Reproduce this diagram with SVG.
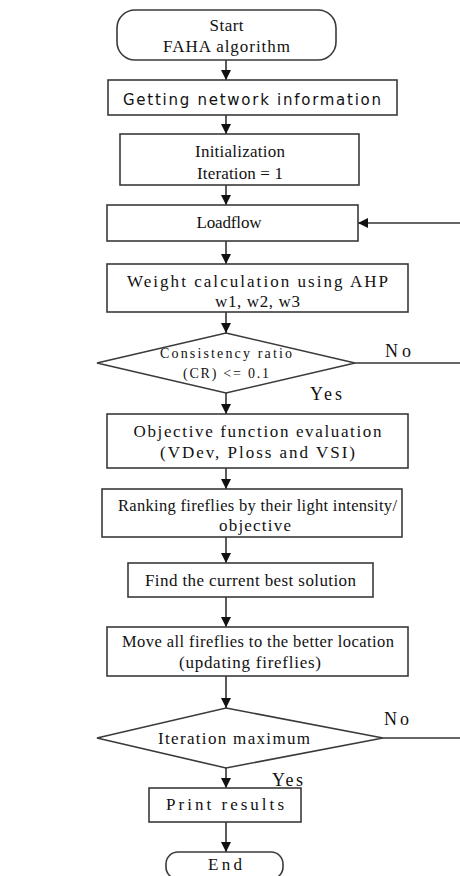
<svg xmlns="http://www.w3.org/2000/svg" width="460" height="876" viewBox="0 0 460 876">
<style>
.box{fill:#fff;stroke:#3a3a3a;stroke-width:1.6}
.c{fill:none;stroke:#333;stroke-width:1.6}
</style>
<defs>
<marker id="ah" markerUnits="userSpaceOnUse" markerWidth="10" markerHeight="10" refX="10" refY="5" orient="auto">
<path d="M0,0 L10,5 L0,10 z" fill="#111"/>
</marker>
</defs>
<g id="connectors">
<line class="c" x1="226" y1="60" x2="226" y2="80" marker-end="url(#ah)"/>
<line class="c" x1="226" y1="115" x2="226" y2="134" marker-end="url(#ah)"/>
<line class="c" x1="226" y1="185" x2="226" y2="205" marker-end="url(#ah)"/>
<line class="c" x1="226" y1="241" x2="226" y2="264" marker-end="url(#ah)"/>
<line class="c" x1="226" y1="312" x2="226" y2="333" marker-end="url(#ah)"/>
<line class="c" x1="226" y1="393" x2="226" y2="414" marker-end="url(#ah)"/>
<line class="c" x1="226" y1="468" x2="226" y2="489" marker-end="url(#ah)"/>
<line class="c" x1="226" y1="537" x2="226" y2="563" marker-end="url(#ah)"/>
<line class="c" x1="226" y1="597" x2="226" y2="627" marker-end="url(#ah)"/>
<line class="c" x1="226" y1="676" x2="226" y2="708" marker-end="url(#ah)"/>
<line class="c" x1="226" y1="768" x2="226" y2="788" marker-end="url(#ah)"/>
<line class="c" x1="226" y1="822" x2="226" y2="852" marker-end="url(#ah)"/>
<line class="c" x1="460" y1="223" x2="358" y2="223" marker-end="url(#ah)"/>
<line class="c" x1="355" y1="363" x2="460" y2="363"/>
<line class="c" x1="383" y1="738" x2="460" y2="738"/>
<g font-family="Liberation Serif, Times New Roman, serif" font-size="18" fill="#111">
<text x="385" y="357" textLength="26" lengthAdjust="spacing">No</text>
<text x="310" y="400" textLength="32" lengthAdjust="spacing">Yes</text>
<text x="384" y="725" textLength="25" lengthAdjust="spacing">No</text>
<text x="272" y="786" textLength="31" lengthAdjust="spacing">Yes</text>
</g>
</g>
<g font-family="Liberation Serif, Times New Roman, serif" font-size="17" fill="#111" text-anchor="middle">
<g id="start">
<rect class="box" x="117" y="10" width="219" height="50" rx="18"/>
<text x="226.5" y="31" textLength="34" lengthAdjust="spacing">Start</text>
<text x="226.5" y="52" textLength="127" lengthAdjust="spacing">FAHA algorithm</text>
</g>
<g id="getting">
<rect class="box" x="108" y="80" width="289" height="35"/>
<text x="252" y="105" font-family="DejaVu Sans, Verdana, sans-serif" font-size="15" textLength="258" lengthAdjust="spacing">Getting network information</text>
</g>
<g id="init">
<rect class="box" x="120" y="134" width="239" height="51"/>
<text x="240" y="157" textLength="90" lengthAdjust="spacing">Initialization</text>
<text x="240" y="179" textLength="86" lengthAdjust="spacing">Iteration = 1</text>
</g>
<g id="loadflow">
<rect class="box" x="107" y="205" width="251" height="36"/>
<text x="229" y="228" textLength="65" lengthAdjust="spacing">Loadflow</text>
</g>
<g id="weight">
<rect class="box" x="107" y="264" width="301" height="48"/>
<text x="257.5" y="287" textLength="261" lengthAdjust="spacing">Weight calculation using AHP</text>
<text x="257.5" y="307" textLength="85" lengthAdjust="spacing">w1, w2, w3</text>
</g>
<g id="consistency">
<polygon class="box" points="226,333 355,363 226,393 97,363"/>
<text x="226" y="358" font-size="14" textLength="132" lengthAdjust="spacing">Consistency ratio</text>
<text x="226" y="378" font-size="14" textLength="86" lengthAdjust="spacing">(CR) &lt;= 0.1</text>
</g>
<g id="objective">
<rect class="box" x="107" y="414" width="301" height="54"/>
<text x="257.5" y="437" textLength="248" lengthAdjust="spacing">Objective function evaluation</text>
<text x="257.5" y="458" textLength="195" lengthAdjust="spacing">(VDev, Ploss and VSI)</text>
</g>
<g id="ranking">
<rect class="box" x="102" y="489" width="300" height="48"/>
<text x="257.5" y="511" font-size="16.5" textLength="279" lengthAdjust="spacing">Ranking fireflies by their light intensity/</text>
<text x="255" y="531" textLength="72" lengthAdjust="spacing">objective</text>
</g>
<g id="find">
<rect class="box" x="128" y="563" width="245" height="34"/>
<text x="250.5" y="586" textLength="211" lengthAdjust="spacing">Find the current best solution</text>
</g>
<g id="move">
<rect class="box" x="107" y="627" width="301" height="49"/>
<text x="258" y="647" font-size="16.5" textLength="272" lengthAdjust="spacing">Move all fireflies to the better location</text>
<text x="250" y="668" textLength="142" lengthAdjust="spacing">(updating fireflies)</text>
</g>
<g id="itermax">
<polygon class="box" points="226,708 383,738 226,768 97,738"/>
<text x="234" y="744" textLength="152" lengthAdjust="spacing">Iteration maximum</text>
</g>
<g id="print">
<rect class="box" x="149" y="788" width="152" height="34"/>
<text x="225" y="810" textLength="118" lengthAdjust="spacing">Print results</text>
</g>
<g id="end">
<rect class="box" x="166" y="852" width="117" height="27" rx="12"/>
<text x="225" y="870" textLength="34" lengthAdjust="spacing">End</text>
</g>
</g>
</svg>
